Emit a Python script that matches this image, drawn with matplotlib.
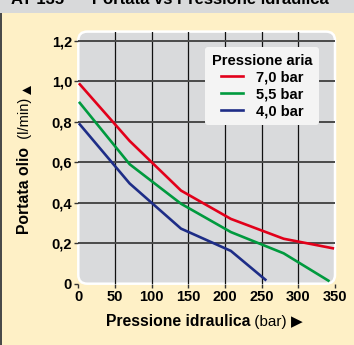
import matplotlib
matplotlib.use('Agg')
import matplotlib.pyplot as plt
from matplotlib.patches import FancyBboxPatch, Rectangle
from matplotlib import font_manager as fm

# data
x_red = [2, 70, 140, 208, 280, 347]
y_red = [0.985, 0.705, 0.46, 0.32, 0.222, 0.175]
x_green = [2, 70, 140, 208, 280, 341]
y_green = [0.893, 0.59, 0.395, 0.255, 0.15, 0.015]
x_blue = [2, 70, 140, 208, 255]
y_blue = [0.787, 0.495, 0.272, 0.162, 0.02]
labels = ['7,0 bar', '5,5 bar', '4,0 bar']
xticks = [0, 50, 100, 150, 200, 250, 300, 350]
yticks = [0, 0.2, 0.4, 0.6, 0.8, 1.0, 1.2]
ytick_labels = ['0', '0,2', '0,4', '0,6', '0,8', '1,0', '1,2']

names = {f.name for f in fm.fontManager.ttflist}
narrow = 'Liberation Sans Narrow' if 'Liberation Sans Narrow' in names else 'Liberation Sans'
fam = [narrow, 'DejaVu Sans']
plt.rcParams['font.family'] = fam

W, H = 354, 345
fig = plt.figure(figsize=(W / 100, H / 100), dpi=100, facecolor='#fef0c6')

# top title strip and left border
fig.patches.append(Rectangle((0, (H - 13) / H), 1, 13 / H, transform=fig.transFigure,
                             facecolor='#d8d9da', edgecolor='none'))
fig.patches.append(Rectangle((0, 0), 2.2 / W, (H - 13) / H, transform=fig.transFigure,
                             facecolor='#4a4a4a', edgecolor='none'))
fig.text(0.03, 1.0 + 1 / H, 'AT 135  \u2013  Portata vs Pressione idraulica', fontsize=12,
         fontweight='bold', color='black', va='center', ha='left')

ax = fig.add_axes([78.3 / W, 61.3 / H, 256.7 / W, 252.1 / H])
ax.set_facecolor('none')
for s in ax.spines.values():
    s.set_visible(False)
bg = FancyBboxPatch((0, 0), 1, 1, boxstyle='round,pad=0,rounding_size=0.035',
                    transform=ax.transAxes, facecolor='#d9dadc', edgecolor='white',
                    lw=1.8, zorder=0, clip_on=False)
ax.add_patch(bg)

ax.set_xlim(0, 350)
ax.set_ylim(0, 1.245)
for v in xticks[1:-1]:
    ax.axvline(v, color='#111111', lw=0.9, zorder=1)
for v in yticks[1:]:
    ax.axhline(v, color='#4a4a4a', lw=1.4, zorder=1)

ax.plot(x_red, y_red, color='#e2001a', lw=1.9, label=labels[0], zorder=3)
ax.plot(x_green, y_green, color='#009a3e', lw=1.9, label=labels[1], zorder=3)
ax.plot(x_blue, y_blue, color='#1e2d87', lw=1.9, label=labels[2], zorder=3)

ax.set_xticks(xticks)
ax.set_xticklabels([str(t) for t in xticks])
ax.set_yticks(yticks)
ax.set_yticklabels(ytick_labels)
ax.tick_params(axis='both', length=3, width=1, color='#333333', labelsize=10.5, pad=1.5)
for t in ax.get_xticklabels() + ax.get_yticklabels():
    t.set_fontweight('bold')

leg = ax.legend(loc='upper right', bbox_to_anchor=(0.938, 0.939), borderaxespad=0,
                title='Pressione aria', frameon=True, fancybox=True, handlelength=1.5,
                handletextpad=0.9, labelspacing=0.2, borderpad=0.45,
                prop={'weight': 'bold', 'size': 10.5, 'family': fam},
                title_fontproperties={'weight': 'bold', 'size': 10.5, 'family': fam})
leg.get_frame().set_facecolor('#f4f4f4')
leg.get_frame().set_edgecolor('none')
leg.get_frame().set_alpha(1)
for l in leg.get_lines():
    l.set_linewidth(1.9)

# axis labels built from pieces
fig.canvas.draw()
r = fig.canvas.get_renderer()
x0 = 105.7
yb = H - 322
for txt, wt, sz in [('Pressione idraulica', 'bold', 11.3), (' (bar) ', 'normal', 11), ('\u25b6', 'normal', 11)]:
    t = fig.text(x0 / W, yb / H, txt, fontsize=sz, fontweight=wt, ha='left', va='center')
    x0 += t.get_window_extent(r).width

y0 = H - 234
for txt, wt, sz in [('Portata olio', 'bold', 11.3), ('  (l/min) ', 'normal', 10.5), ('\u25b2', 'normal', 11)]:
    t = fig.text(25 / W, y0 / H, txt, fontsize=sz, fontweight=wt, ha='center', va='bottom',
                 rotation=90)
    y0 += t.get_window_extent(r).height

fig.savefig('out.png', dpi=100, facecolor=fig.get_facecolor())
